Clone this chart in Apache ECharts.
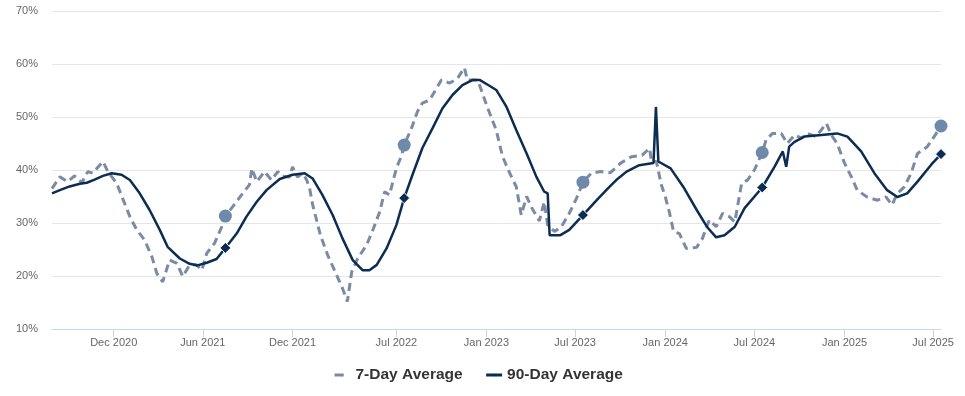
<!DOCTYPE html>
<html>
<head>
<meta charset="utf-8">
<script src="https://cdn.jsdelivr.net/npm/echarts@6/dist/echarts.min.js"></script>
<style>
  html, body { margin: 0; padding: 0; background: #fff; }
  #chart { width: 965px; height: 396px; }
</style>
</head>
<body>
<div id="chart"></div>
<script>
// 7-day average (dashed)
const dates7 = [
  '2020-07-28','2020-08-13','2020-08-29','2020-09-12','2020-09-27','2020-10-09','2020-10-19','2020-11-09','2020-11-19','2020-12-07','2020-12-19',
  '2021-01-03','2021-01-17','2021-02-02','2021-02-17','2021-02-27','2021-03-11','2021-03-25','2021-04-09','2021-04-21','2021-05-05',
  '2021-05-19','2021-05-30','2021-06-09','2021-06-25','2021-07-11','2021-07-17','2021-08-01','2021-08-19','2021-09-04','2021-09-09',
  '2021-09-19','2021-10-05','2021-10-19','2021-11-01','2021-11-11','2021-11-25','2021-12-01','2021-12-11','2021-12-22','2021-12-30',
  '2022-01-05','2022-01-11','2022-01-27','2022-02-11','2022-03-01','2022-03-13','2022-03-23','2022-04-01','2022-04-13','2022-05-01',
  '2022-05-13','2022-05-28','2022-06-07','2022-06-17','2022-07-01','2022-07-12','2022-07-17','2022-08-01','2022-08-13','2022-08-23',
  '2022-09-07','2022-09-21','2022-10-01','2022-10-18','2022-11-03','2022-11-17','2022-11-23','2022-12-12','2022-12-18',
  '2023-01-01','2023-01-21','2023-02-03','2023-02-17','2023-03-03','2023-03-13','2023-03-24','2023-04-05','2023-04-19','2023-04-29',
  '2023-05-06','2023-05-20','2023-06-03','2023-06-19','2023-07-04','2023-07-17','2023-08-03','2023-08-22','2023-09-11','2023-10-02',
  '2023-10-24','2023-11-15','2023-11-30','2023-12-04','2023-12-14','2023-12-24',
  '2024-01-01','2024-01-10','2024-01-18','2024-01-30','2024-02-13','2024-03-05','2024-03-17','2024-03-31','2024-04-14','2024-04-27',
  '2024-05-11','2024-05-22','2024-06-05','2024-06-17','2024-07-01','2024-07-17','2024-07-25','2024-08-07','2024-08-25','2024-09-06',
  '2024-09-21','2024-10-05','2024-10-17','2024-11-04','2024-11-25','2024-12-05','2024-12-17',
  '2025-01-01','2025-01-15','2025-01-27','2025-02-16','2025-03-09','2025-03-27','2025-04-08','2025-04-19','2025-05-03','2025-05-17',
  '2025-05-30','2025-06-19','2025-07-03','2025-07-17'
];
const values7 = [
  36.5, 38.7, 37.8, 38.9, 37.6, 39.7, 39.4, 41.6, 39.7, 37.5, 34.7,
  31.2, 28.7, 26.8, 23.6, 20.5, 18.9, 23.0, 22.4, 19.9, 22.1,
  22.1, 21.1, 24.3, 26.2, 29.6, 31.3, 33.1, 35.3, 37.2, 40.3,
  37.8, 39.7, 38.1, 39.7, 38.8, 38.7, 40.6, 38.7, 39.4, 38.1,
  36.5, 33.5, 27.7, 23.9, 20.2, 17.7, 15.2, 20.8, 23.3, 25.8,
  28.4, 32.1, 35.9, 35.3, 40.3, 42.8, 44.7, 47.9, 51.0, 52.6,
  53.2, 55.4, 57.0, 56.4, 57.3, 59.3, 57.0, 57.0, 56.0,
  52.3, 47.5, 42.5, 39.5, 36.8, 31.5, 35.0, 32.6, 30.4, 34.0,
  29.6, 28.4, 29.3, 31.8, 34.7, 37.7, 39.4, 39.7, 39.5, 41.3,
  42.5, 42.8, 44.1, 41.6, 41.6, 37.2,
  35.0, 31.8, 28.4, 28.0, 25.2, 25.4, 27.1, 30.6, 29.3, 31.8,
  31.2, 30.2, 37.5, 38.1, 40.0, 43.3, 45.7, 46.9, 46.9, 45.0,
  46.6, 46.0, 46.9, 46.3, 48.8, 46.6, 45.0,
  41.3, 38.7, 36.2, 34.9, 34.3, 34.9, 33.4, 35.6, 36.8, 39.4,
  43.1, 44.4, 46.3, 48.3
];

// 90-day average (solid)
const dates90 = [
  '2020-07-28','2020-08-13','2020-09-02','2020-09-23','2020-10-07','2020-10-23','2020-11-09','2020-11-27','2020-12-17',
  '2021-01-03','2021-01-23','2021-02-12','2021-03-05','2021-03-21','2021-04-15','2021-05-05','2021-05-21','2021-06-09','2021-06-29',
  '2021-07-17','2021-08-09','2021-08-29','2021-09-19','2021-10-09','2021-11-05','2021-12-01','2021-12-26',
  '2022-01-11','2022-01-31','2022-02-21','2022-03-13','2022-04-03','2022-04-23','2022-05-07','2022-05-22','2022-06-11','2022-07-01',
  '2022-07-17','2022-08-03','2022-08-23','2022-09-13','2022-10-03','2022-10-24','2022-11-13','2022-12-04','2022-12-18',
  '2023-01-07','2023-01-21','2023-02-11','2023-03-03','2023-03-24','2023-04-13','2023-04-29','2023-05-06','2023-05-10','2023-06-01',
  '2023-06-19','2023-07-17','2023-08-16','2023-09-09','2023-09-23','2023-10-14','2023-11-09','2023-12-08','2023-12-13','2023-12-18',
  '2024-01-12','2024-02-07','2024-03-05','2024-03-26','2024-04-14','2024-05-01','2024-05-22','2024-06-11','2024-07-17','2024-08-11',
  '2024-08-28','2024-09-04','2024-09-10','2024-09-21','2024-10-11','2024-11-15','2024-12-17',
  '2025-01-07','2025-02-04','2025-03-03','2025-03-29','2025-04-19','2025-05-09','2025-05-30','2025-06-27','2025-07-17'
];
const values90 = [
  35.6, 36.2, 36.9, 37.4, 37.6, 38.2, 38.9, 39.4, 39.1,
  38.1, 35.6, 32.5, 28.7, 25.5, 23.3, 22.3, 22.0, 22.5, 23.2,
  25.3, 28.0, 31.2, 34.0, 36.2, 38.3, 39.1, 39.4,
  38.4, 35.3, 31.5, 27.1, 23.0, 21.1, 21.1, 22.1, 25.2, 29.6,
  34.7, 39.1, 44.1, 47.9, 51.6, 54.2, 56.0, 57.0, 57.0,
  55.9, 55.1, 51.9, 47.5, 43.1, 38.7, 35.9, 35.6, 27.7, 27.7,
  28.7, 31.5, 34.5, 36.8, 38.1, 39.7, 40.9, 41.3, 51.9, 41.6,
  40.3, 36.8, 32.5, 29.3, 27.3, 27.7, 29.3, 32.8, 36.7, 40.6,
  43.5, 40.6, 44.4, 45.3, 46.3, 46.6, 46.9,
  46.3, 43.5, 39.4, 36.2, 34.9, 35.6, 37.8, 41.0, 43.0
];

// highlighted points, same day each year
const markerDates = ['2021-07-17', '2022-07-17', '2023-07-17', '2024-07-17', '2025-07-17'];
const marker7 = [31.3, 44.7, 37.7, 43.3, 48.3];
const marker90 = [25.3, 34.7, 31.5, 36.7, 43.0];

// x axis labels
const tickDates = ['2020-12-01', '2021-06-01', '2021-12-01', '2022-07-01', '2023-01-01',
  '2023-07-01', '2024-01-01', '2024-07-01', '2025-01-01', '2025-07-01'];
const monthNames = ['Jan', 'Feb', 'Mar', 'Apr', 'May', 'Jun', 'Jul', 'Aug', 'Sep', 'Oct', 'Nov', 'Dec'];

function toTime(s) {
  const p = s.split('-').map(Number);
  return new Date(p[0], p[1] - 1, p[2]).getTime();
}

const tickValues = tickDates.map(toTime);
const labelColor = '#666666';

const chart = echarts.init(document.getElementById('chart'));

chart.setOption({
  animation: false,
  grid: {
    left: 52,
    right: 24,
    top: 11,
    bottom: 67
  },
  legend: {
    left: 328,
    top: 362,
    itemWidth: 16,
    itemHeight: 3,
    itemGap: 22,
    textStyle: {
      fontFamily: 'Liberation Sans, Arial, sans-serif',
      fontSize: 15.5,
      fontWeight: 'bold',
      color: '#333333'
    },
    data: [
      { name: '7-Day Average', lineStyle: { type: [9, 100], width: 3 } },
      { name: '90-Day Average', lineStyle: { width: 3 } }
    ]
  },
  xAxis: {
    // timestamps on a value axis so the irregular month ticks can be placed
    type: 'value',
    min: toTime('2020-07-28'),
    max: toTime('2025-07-17'),
    axisLine: { lineStyle: { color: '#ccd6eb' } },
    axisTick: {
      show: true,
      length: 8,
      customValues: tickValues,
      lineStyle: { color: '#ccd6eb' }
    },
    axisLabel: {
      customValues: tickValues,
      margin: 8,
      color: labelColor,
      fontSize: 11,
      fontFamily: 'Liberation Sans, Arial, sans-serif',
      formatter: function (v) {
        const d = new Date(v);
        return monthNames[d.getMonth()] + ' ' + d.getFullYear();
      }
    },
    splitLine: { show: false }
  },
  yAxis: {
    type: 'value',
    min: 10,
    max: 70,
    interval: 10,
    axisLine: { show: false },
    axisTick: { show: false },
    axisLabel: {
      formatter: '{value}%',
      margin: 14,
      color: labelColor,
      fontSize: 11,
      fontFamily: 'Liberation Sans, Arial, sans-serif'
    },
    splitLine: { lineStyle: { color: '#e6e6e6' } }
  },
  series: [
    {
      name: '7-Day Average',
      type: 'line',
      symbol: 'none',
      data: dates7.map((d, i) => [toTime(d), values7[i]]),
      lineStyle: { color: '#7a8ba3', width: 3, type: [8, 5] },
      itemStyle: { color: '#7a8ba3' },
      z: 2
    },
    {
      name: '90-Day Average',
      type: 'line',
      symbol: 'none',
      data: dates90.map((d, i) => [toTime(d), values90[i]]),
      lineStyle: { color: '#0c2d52', width: 2.5 },
      itemStyle: { color: '#0c2d52' },
      z: 3
    },
    {
      name: '7-Day marker',
      type: 'scatter',
      symbol: 'circle',
      symbolSize: 13,
      data: markerDates.map((d, i) => [toTime(d), marker7[i]]),
      itemStyle: { color: '#6f89aa', opacity: 1 },
      z: 4
    },
    {
      name: '90-Day marker',
      type: 'scatter',
      symbol: 'diamond',
      symbolSize: 11,
      data: markerDates.map((d, i) => [toTime(d), marker90[i]]),
      itemStyle: { color: '#0c2d52', borderColor: '#ffffff', borderWidth: 1, opacity: 1 },
      z: 4
    }
  ]
});

window.addEventListener('resize', () => {
  chart.resize();
});
</script>
</body>
</html>
